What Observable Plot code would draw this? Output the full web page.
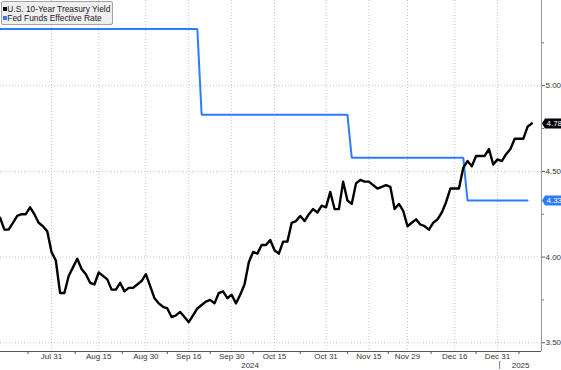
<!DOCTYPE html>
<html>
<head>
<meta charset="utf-8">
<script src="https://cdn.jsdelivr.net/npm/d3@7"></script>
<script src="https://cdn.jsdelivr.net/npm/@observablehq/plot@0.6"></script>
<style>
  body { margin: 0; background: #fff; }
  #wrap { position: relative; width: 561px; height: 370px; overflow: hidden; }
  #legend {
    position: absolute; left: 1px; top: 1px; width: 112px; height: 24px;
    box-sizing: border-box; background: #efefef; border: 1px solid #a3a3a3; border-radius: 2px;
    font: 8.4px "Liberation Sans", Arial, sans-serif; color: #222; line-height: 9px;
    padding: 2.6px 0 0 0.7px; white-space: nowrap;
  }
  .sw { display: inline-block; width: 4px; height: 4px; margin-right: 0.6px; vertical-align: 0.3px; }
  svg { overflow: visible; }
</style>
</head>
<body>
<div id="wrap"><div id="legend"></div></div>
<script>
// ---- data ----
const seriesNames = ["U.S. 10-Year Treasury Yield", "Fed Funds Effective Rate"];
const seriesColors = ["#000000", "#2f7bff"];

// bond-market trading days (weekdays minus market holidays)
const holidays = ["2024-09-02", "2024-10-14", "2024-11-11", "2024-11-28", "2024-12-25", "2025-01-01"];
const firstDay = "2024-07-15";
const lastDay = "2025-01-13";

// U.S. 10-year Treasury yield, one value per trading day from Jul 15 2024
const yields = [
  4.23, 4.16, 4.16, 4.20, 4.24, 4.25, 4.25, 4.29, 4.25, 4.20,
  4.18, 4.15, 4.03, 3.98, 3.79, 3.79, 3.89, 3.94, 3.99, 3.93,
  3.90, 3.85, 3.84, 3.91, 3.89, 3.87, 3.81, 3.81, 3.85, 3.80,
  3.82, 3.82, 3.84, 3.86, 3.90, 3.83, 3.76, 3.73, 3.71, 3.70,
  3.65, 3.66, 3.68, 3.65, 3.62, 3.66, 3.70, 3.72, 3.74, 3.75,
  3.73, 3.79, 3.80, 3.76, 3.78, 3.73, 3.78, 3.84, 3.97, 4.03,
  4.02, 4.07, 4.07, 4.10, 4.04, 4.02, 4.09, 4.09, 4.20, 4.21,
  4.24, 4.21, 4.25, 4.28, 4.26, 4.30, 4.29, 4.38, 4.28, 4.28,
  4.44, 4.33, 4.31, 4.43, 4.45, 4.44, 4.44, 4.42, 4.40, 4.41,
  4.42, 4.41, 4.28, 4.31, 4.27, 4.18, 4.20, 4.22, 4.19, 4.18,
  4.16, 4.20, 4.22, 4.26, 4.32, 4.40, 4.40, 4.40, 4.52, 4.56,
  4.53, 4.59, 4.59, 4.59, 4.63, 4.54, 4.57, 4.56, 4.60, 4.63,
  4.69, 4.69, 4.69, 4.76, 4.78
];

// Fed funds effective rate, one value per trading day from Jul 15 2024
const fedFunds = [
  5.33, 5.33, 5.33, 5.33, 5.33, 5.33, 5.33, 5.33, 5.33, 5.33,
  5.33, 5.33, 5.33, 5.33, 5.33, 5.33, 5.33, 5.33, 5.33, 5.33,
  5.33, 5.33, 5.33, 5.33, 5.33, 5.33, 5.33, 5.33, 5.33, 5.33,
  5.33, 5.33, 5.33, 5.33, 5.33, 5.33, 5.33, 5.33, 5.33, 5.33,
  5.33, 5.33, 5.33, 5.33, 5.33, 5.33, 5.33, 4.83, 4.83, 4.83,
  4.83, 4.83, 4.83, 4.83, 4.83, 4.83, 4.83, 4.83, 4.83, 4.83,
  4.83, 4.83, 4.83, 4.83, 4.83, 4.83, 4.83, 4.83, 4.83, 4.83,
  4.83, 4.83, 4.83, 4.83, 4.83, 4.83, 4.83, 4.83, 4.83, 4.83,
  4.83, 4.83, 4.58, 4.58, 4.58, 4.58, 4.58, 4.58, 4.58, 4.58,
  4.58, 4.58, 4.58, 4.58, 4.58, 4.58, 4.58, 4.58, 4.58, 4.58,
  4.58, 4.58, 4.58, 4.58, 4.58, 4.58, 4.58, 4.58, 4.58, 4.33,
  4.33, 4.33, 4.33, 4.33, 4.33, 4.33, 4.33, 4.33, 4.33, 4.33,
  4.33, 4.33, 4.33, 4.33
];

const tickDates = ["2024-07-31", "2024-08-15", "2024-08-30", "2024-09-16", "2024-09-30", "2024-10-15",
                   "2024-10-31", "2024-11-15", "2024-11-29", "2024-12-16", "2024-12-31"];
const tickLabels = ["Jul 31", "Aug 15", "Aug 30", "Sep 16", "Sep 30", "Oct 15",
                    "Oct 31", "Nov 15", "Nov 29", "Dec 16", "Dec 31"];
const yearLabels = ["2024", "2025"];
const yTicks = [3.5, 4.0, 4.5, 5.0];
const yMinorTicks = [3.75, 4.25, 4.75, 5.25];

// ---- build trading-day index ----
const tradingDays = [];
for (let d = new Date(firstDay + "T00:00:00Z"); d <= new Date(lastDay + "T00:00:00Z"); d = new Date(+d + 864e5)) {
  const s = d.toISOString().slice(0, 10), wd = d.getUTCDay();
  if (wd > 0 && wd < 6 && !holidays.includes(s)) tradingDays.push(s);
}
const yieldData = yields.map((v, i) => ({i, date: tradingDays[i], v}));
const fedData = fedFunds.map((v, i) => ({i, date: tradingDays[i], v}));

const tickIdx = tickDates.map(d => tradingDays.indexOf(d));
const labelOf = new Map(tickIdx.map((k, j) => [k, tickLabels[j]]));
const minorX = [];
for (let j = 0; j <= tickIdx.length; j++) {
  const a = j === 0 ? tickIdx[0] - (tickIdx[1] - tickIdx[0]) : tickIdx[j - 1];
  const b = j === tickIdx.length ? tickIdx[j - 1] + (tickIdx[j - 1] - tickIdx[j - 2]) : tickIdx[j];
  minorX.push((a + b) / 2);
}
const yearBoundary = tradingDays.findIndex(d => d >= "2025") - 0.5;

const xDomain = [0.1, 126.25];
const yDomain = [3.449, 5.497];
const years = [
  {label: yearLabels[0], x: (xDomain[0] + yearBoundary) / 2},
  {label: yearLabels[1], x: (yearBoundary + xDomain[1]) / 2}
];
const tags = [
  {v: yields[yields.length - 1], color: seriesColors[0]},
  {v: fedFunds[fedFunds.length - 1], color: seriesColors[1]}
];

// last-value tag shape (pointer on the left, body running to the edge)
const tagSymbol = {
  draw(ctx) {
    ctx.moveTo(0.5, 0);
    ctx.lineTo(3.5, -5);
    ctx.lineTo(21, -5);
    ctx.lineTo(21, 5);
    ctx.lineTo(3.5, 5);
    ctx.closePath();
  }
};

const grid = {stroke: "#c8c8c8", strokeOpacity: 1, strokeDasharray: "1,2"};

const chart = Plot.plot({
  width: 561, height: 370,
  marginTop: 0, marginLeft: 0, marginRight: 20, marginBottom: 19,
  style: {fontFamily: "'Liberation Sans', Arial, sans-serif", fontSize: "8px", color: "#333", background: "#fff"},
  x: {type: "linear", domain: xDomain, axis: null},
  y: {type: "linear", domain: yDomain, axis: null},
  marks: [
    Plot.gridX(tickIdx, grid),
    Plot.gridY(yTicks, grid),
    Plot.ruleY([yDomain[0]], {stroke: "#555"}),
    Plot.ruleX([xDomain[1]], {stroke: "#999"}),
    Plot.axisY(yTicks, {anchor: "right", label: null, tickSize: 3, tickPadding: 1, tickFormat: d => d.toFixed(2), stroke: "#555", fill: "#333"}),
    Plot.axisY(yMinorTicks, {anchor: "right", label: null, tickSize: 2, tickFormat: () => "", stroke: "#777"}),
    Plot.axisX(tickIdx, {anchor: "bottom", label: null, tickSize: 0, tickPadding: 2, tickFormat: k => labelOf.get(k), fill: "#333"}),
    Plot.axisX(minorX, {anchor: "bottom", label: null, tickSize: 3, tickFormat: () => "", stroke: "#555"}),
    Plot.axisX([yearBoundary], {anchor: "bottom", label: null, tickSize: 8, dy: 10, tickFormat: () => "", stroke: "#777"}),
    Plot.text(years, {x: "x", frameAnchor: "bottom", dy: 13.5, lineAnchor: "middle", text: "label", fill: "#333"}),
    Plot.line(fedData, {x: "i", y: "v", stroke: seriesColors[1], strokeWidth: 2, strokeLinejoin: "miter"}),
    Plot.line(yieldData, {x: "i", y: "v", stroke: seriesColors[0], strokeWidth: 2.4, strokeLinejoin: "round"}),
    Plot.dot(tags, {y: "v", frameAnchor: "right", symbol: tagSymbol, r: 5, fill: "color", stroke: null}),
    Plot.text(tags, {y: "v", frameAnchor: "right", dx: 5, textAnchor: "start", text: d => d.v.toFixed(2), fill: "#fff"})
  ]
});

const wrap = document.getElementById("wrap");
wrap.insertBefore(chart, wrap.firstChild);

// legend
const legend = document.getElementById("legend");
legend.innerHTML = seriesNames.map((n, j) =>
  `<div><span class="sw" style="background:${seriesColors[j]}"></span>${n}</div>`).join("");
</script>
</body>
</html>
